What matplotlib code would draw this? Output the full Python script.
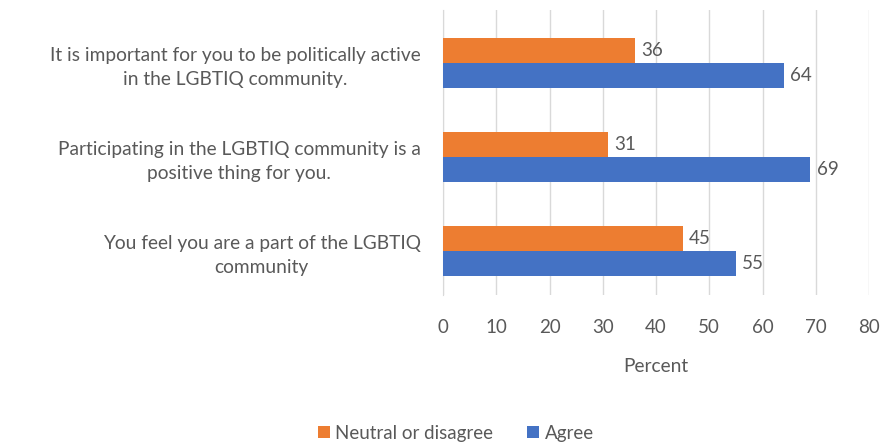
import numpy as np
import matplotlib.pyplot as plt

plt.rcParams['font.family'] = ['Lato', 'DejaVu Sans']

categories = [
    "It is important for you to be politically active\nin the LGBTIQ community.",
    "Participating in the LGBTIQ community is a\npositive thing for you.",
    "You feel you are a part of the LGBTIQ\ncommunity",
]
neutral = [36, 31, 45]
agree = [64, 69, 55]
ticks = [0, 10, 20, 30, 40, 50, 60, 70, 80]

txt = '#595959'
orange = '#ED7D31'
blue = '#4472C4'

fig = plt.figure(figsize=(8.85, 4.43), dpi=100)
ax = fig.add_axes([0.5006, 0.334, 0.4814, 0.643])

y = np.arange(len(categories))
h = 0.265
ax.barh(y - h / 2, neutral, height=h, color=orange, label='Neutral or disagree', zorder=3)
ax.barh(y + h / 2, agree, height=h, color=blue, label='Agree', zorder=3)

for yi, v in zip(y, neutral):
    ax.text(v + 1.2, yi - h / 2, str(v), va='center', ha='left', fontsize=13.5, color=txt)
for yi, v in zip(y, agree):
    ax.text(v + 1.2, yi + h / 2, str(v), va='center', ha='left', fontsize=13.5, color=txt)

ax.set_xlim(0, 80)
ax.set_ylim(2.47, -0.56)
ax.set_xticks(ticks)
ax.set_yticks(y)
ax.set_yticklabels(categories, fontsize=13.8, color=txt, ha='right', multialignment='center')
for lab in ax.get_yticklabels():
    lab.set_linespacing(1.5)
ax.tick_params(axis='x', labelsize=13.5, colors=txt, length=0, pad=17)
ax.tick_params(axis='y', length=0, pad=16)
ax.grid(axis='x', color='#D9D9D9', linewidth=1, zorder=0)
for s in ['top', 'right', 'bottom']:
    ax.spines[s].set_visible(False)
ax.spines['left'].set_color('#D9D9D9')
ax.set_xlabel('Percent', fontsize=13.8, color=txt, labelpad=16)

handles, labels = ax.get_legend_handles_labels()
fig.legend(handles, labels, loc='center', bbox_to_anchor=(0.515, 0.022), ncol=2,
           frameon=False, fontsize=13.5, labelcolor=txt, handlelength=0.65, handleheight=0.65,
           handletextpad=0.3, columnspacing=1.8)

fig.savefig('out.png', dpi=100)
